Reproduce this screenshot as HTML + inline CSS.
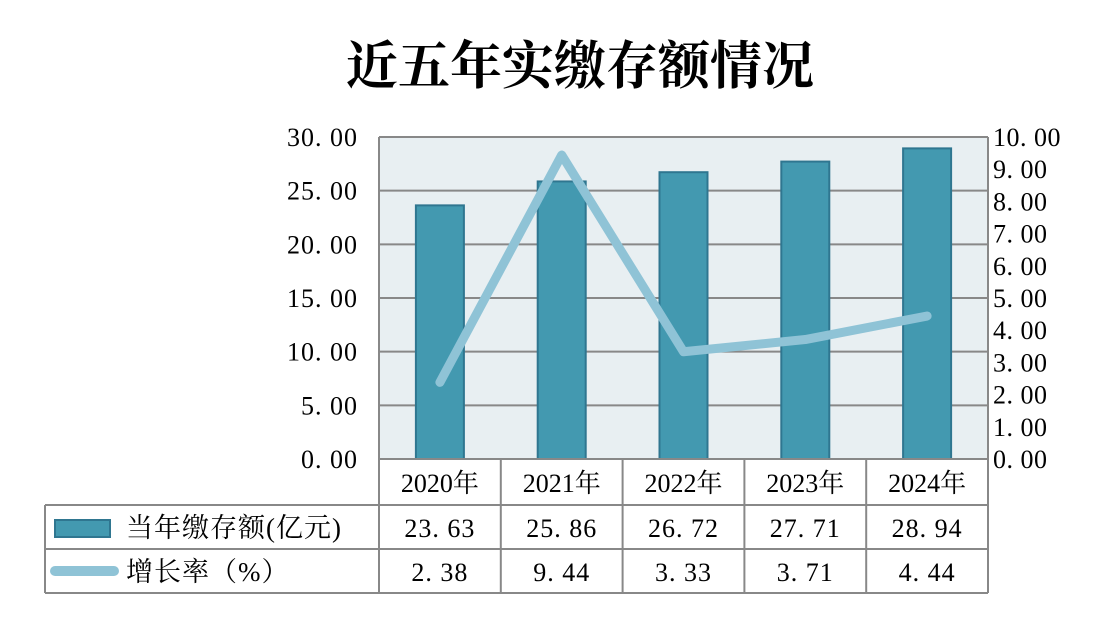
<!DOCTYPE html>
<html><head><meta charset="utf-8"><style>
body{margin:0;background:#fff}
svg{display:block}
text{font-family:"Liberation Serif","Noto Serif CJK SC",serif;fill:#000}
</style></head><body>
<svg id="c" width="1110" height="637" viewBox="0 0 1110 637">
<text x="580" y="84" text-anchor="middle" font-size="52" font-weight="bold" style="font-family:'Noto Serif CJK SC',serif">近五年实缴存额情况</text>
<rect x="379" y="137" width="609" height="322" fill="#e8eff2"/>
<g id="grid"></g><g id="bars"></g><g id="line"></g><g id="axes"></g><g id="table"></g>
</svg>
<script>
const categories=["2020年","2021年","2022年","2023年","2024年"];
const amounts=[23.63,25.86,26.72,27.71,28.94];
const growth=[2.38,9.44,3.33,3.71,4.44];
const leftTicks=[0,5,10,15,20,25,30];
const rightTicks=[0,1,2,3,4,5,6,7,8,9,10];
const NS="http://www.w3.org/2000/svg";
const X0=379,X1=988,Y0=459,Y1=137;
const yL=v=>Y0-v/30*(Y0-Y1), yR=v=>Y0-v/10*(Y0-Y1);
const cw=(X1-X0)/categories.length, xc=i=>X0+cw*(i+0.5);
function mk(tag,attrs,parent,txt){const e=document.createElementNS(NS,tag);for(const k in attrs)e.setAttribute(k,attrs[k]);if(txt!==undefined)e.textContent=txt;document.getElementById(parent).appendChild(e);return e;}
const fmt=v=>v.toFixed(2).replace('.','. ');
leftTicks.forEach(t=>{
 if(t>0){const g=mk('line',{x1:X0,x2:X1,y1:yL(t),y2:yL(t),stroke:'#888','stroke-width':2},'grid');
 
 }
 const l=mk('text',{x:358,y:yL(t)+9,'text-anchor':'end','font-size':26,'letter-spacing':1},'axes',fmt(t));
 
 
});
rightTicks.forEach(t=>{
 const l=mk('text',{x:993,y:yR(t)+9,'font-size':26,'letter-spacing':0.5},'axes',fmt(t));
 
 
});
amounts.forEach((v,i)=>{
 const b=mk('rect',{x:xc(i)-24,y:yL(v),width:48,height:Y0-yL(v),fill:'#4399b0',stroke:'#2f7690','stroke-width':2},'bars');
 
 
});
const pl=mk('polyline',{points:growth.map((v,i)=>xc(i)+','+yR(v)).join(' '),fill:'none',stroke:'#8fc3d6','stroke-width':9,'stroke-linejoin':'round','stroke-linecap':'round'},'line');


[[X0,Y1,X0,Y0],[X1,Y1,X1,Y0],[X0,Y1,X1,Y1]].forEach(a=>{const f=mk('line',{x1:a[0],y1:a[1],x2:a[2],y2:a[3],stroke:'#888','stroke-width':2},'axes');
 
 });
const sc='#888';
function ln(x1,y1,x2,y2){const e=mk('line',{x1,y1,x2,y2,stroke:sc,'stroke-width':2},'table');
 
 }
ln(X0,459,X1,459);ln(45,505,X1,505);ln(45,549,X1,549);ln(45,593,X1,593);ln(45,505,45,593);
for(let i=0;i<=categories.length;i++)ln(X0+cw*i,459,X0+cw*i,593);
categories.forEach((c,i)=>{
 const t=mk('text',{x:xc(i),y:492,'text-anchor':'middle','font-size':26},'table',c);
 
 
 const a=mk('text',{x:xc(i),y:537,'text-anchor':'middle','font-size':26,'letter-spacing':1},'table',fmt(amounts[i]));
 
 
 const g=mk('text',{x:xc(i),y:581,'text-anchor':'middle','font-size':26,'letter-spacing':1},'table',fmt(growth[i]));
 
 
});
const k1=mk('rect',{x:55,y:520,width:55,height:17,fill:'#4399b0',stroke:'#2f7690','stroke-width':2},'table');


const t1=mk('text',{x:126,y:537,'font-size':27,'letter-spacing':1},'table','当年缴存额(亿元)');


const k2=mk('line',{x1:55,y1:571,x2:114,y2:571,stroke:'#8fc3d6','stroke-width':10,'stroke-linecap':'round'},'table');


const t2=mk('text',{x:126,y:581,'font-size':27,'letter-spacing':1},'table','增长率（%）');


</script>
</body></html>
